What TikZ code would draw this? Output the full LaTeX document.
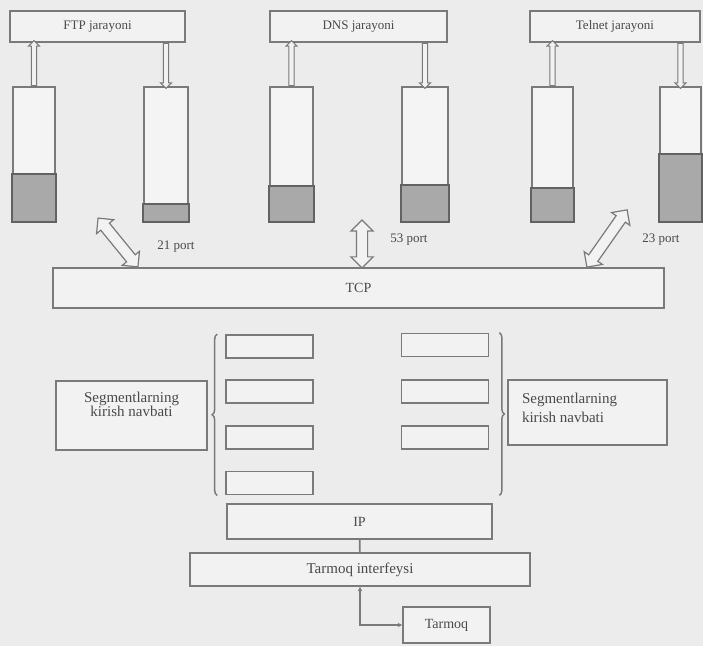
\documentclass[tikz,border=0pt]{standalone}
\usepackage{fontspec}
\setmainfont{Liberation Serif}
\usetikzlibrary{arrows.meta,positioning,shapes.arrows,decorations.pathreplacing}

\definecolor{paper}{HTML}{ECECEC}
\definecolor{ink}{HTML}{7A7A7A}
\definecolor{txt}{HTML}{4A4A4A}
\definecolor{level}{HTML}{A9A9A9}

\begin{document}
\begin{tikzpicture}[x=1pt,y=1pt,
  proc/.style={draw=ink,line width=1.7pt,fill=white!30!paper,text=txt,
    minimum height=31,inner sep=0pt,font=\fontsize{13}{15}\selectfont},
  queue/.style={draw=ink,line width=1.7pt,fill=white!40!paper,
    minimum height=134,inner sep=0pt},
  layer/.style={draw=ink,line width=1.7pt,fill=white!30!paper,text=txt,
    inner sep=0pt,font=\fontsize{14}{16}\selectfont},
  slot/.style={draw=ink,line width=1.7pt,fill=white!30!paper,
    minimum width=87,minimum height=23,inner sep=0pt},
  note/.style={draw=ink,line width=1.7pt,fill=white!30!paper,text=txt,
    inner sep=0pt,font=\fontsize{15}{14}\selectfont},
  port/.style={text=txt,font=\fontsize{13}{15}\selectfont},
  updown/.style={single arrow,draw=ink,line width=1pt,fill=white!30!paper,
    single arrow head extend=2.8,inner xsep=0pt,inner ysep=2.2pt,
    minimum height=45,sloped,allow upside down},
  portarrow/.style={double arrow,draw=ink,line width=1.2pt,fill=white!30!paper,
    double arrow head extend=5.5,inner xsep=0pt,inner ysep=5pt,
    sloped,allow upside down},
  link/.style={draw=ink,line width=1.6pt},
  brace/.style={draw=ink,line width=1.5pt,decorate,
    decoration={brace,amplitude=5pt}}
]
  \path[use as bounding box,fill=paper] (0,0) rectangle (703,646);

  \node[proc,minimum width=175] (ftp) at (97.5,619.5) {FTP jarayoni};
  \node[proc,minimum width=177] (dns) at (358.5,619.5) {DNS jarayoni};
  \node[proc,minimum width=170] (telnet) at (615,619.5) {Telnet jarayoni};

  \foreach \n/\x/\w/\lvl in {q1/34/42/48,q2/166/44/18,q3/291.5/43/36,
      q4/425/46/37,q5/552.5/41/34,q6/680.5/41/68}{
    \node[queue,minimum width=\w] (\n) at (\x,492) {};
    \filldraw[fill=level,draw=ink!80!black,line width=1.8pt]
      (\n.south west) rectangle ([yshift=\lvl]\n.south east);
  }

  \path (q1.north) -- node[updown] {} (q1.north |- ftp.south);
  \path (q2.north |- ftp.south) -- node[updown] {} (q2.north);
  \path (q3.north) -- node[updown] {} (q3.north |- dns.south);
  \path (q4.north |- dns.south) -- node[updown] {} (q4.north);
  \path (q5.north) -- node[updown] {} (q5.north |- telnet.south);
  \path (q6.north |- telnet.south) -- node[updown] {} (q6.north);

  \node[layer,minimum width=611,minimum height=40] (tcp) at (358.5,358) {TCP};

  \coordinate (a21) at (98,428);
  \coordinate (b21) at (138,379);
  \coordinate (a53) at (362,426);
  \coordinate (b53) at (362,378);
  \coordinate (a23) at (627,436);
  \coordinate (b23) at (587,379);
  \path (a21) -- node[portarrow,minimum height=63] {} (b21);
  \path (a53) -- node[portarrow,minimum height=48] {} (b53);
  \path (a23) -- node[portarrow,minimum height=70] {} (b23);
  \node[port] (p21) at (176,399) {21 port};
  \node[port] (p53) at (409,406) {53 port};
  \node[port] (p23) at (661,406) {23 port};

  \foreach \n/\y in {ls1/299.5,ls2/254.5,ls3/208.5,ls4/163}
    \node[slot] (\n) at (269.5,\y) {};
  \foreach \n/\y in {rs1/301,rs2/254.5,rs3/208.5}
    \node[slot] (\n) at (445,\y) {};

  \draw[brace] ([xshift=-8]ls4.south west) -- ([xshift=-8]ls1.north west);
  \draw[brace] ([xshift=10]rs1.north east) -- ([xshift=10]rs1.north east |- ls4.south);

  \node[note] (inl) at (131.5,230.5) {\parbox[c][69pt][t]{151pt}{\centering
    \vspace*{11pt}Segmentlarning\\kirish navbati}};
  \node[note] (inr) at (587.5,233.5) {\parbox[c][65pt][t]{159pt}{%
    \fontsize{15}{19}\selectfont\raggedright\leftskip=14pt
    \vspace*{13pt}Segmentlarning\\kirish navbati}};

  \node[layer,minimum width=265,minimum height=35] (ip) at (359.5,124.5) {IP};
  \node[layer,minimum width=340,minimum height=33,font=\fontsize{15}{17}\selectfont]
    (iface) at (360,76.5) {Tarmoq interfeysi};
  \node[layer,minimum width=87,minimum height=36] (net) at (446.5,21) {Tarmoq};

  \draw[link] (ip) -- (iface);
  \draw[link,{Stealth[length=4.5pt,width=4.5pt]}-{Stealth[length=4.5pt,width=4.5pt]}]
    (iface.south) |- (net.west);
\end{tikzpicture}
\end{document}
